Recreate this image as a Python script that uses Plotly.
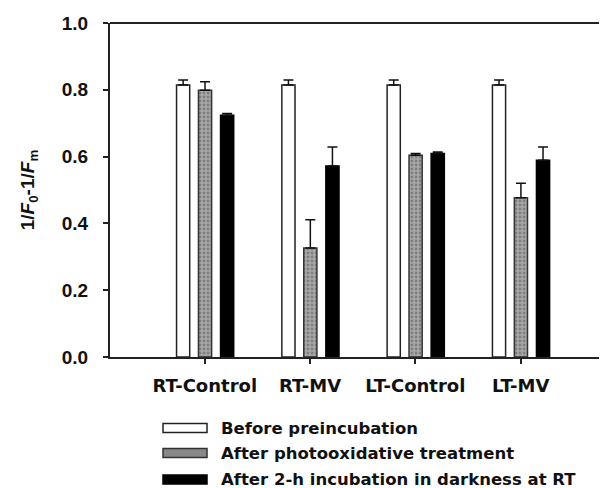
import plotly.graph_objects as go

categories = ["RT-Control", "RT-MV", "LT-Control", "LT-MV"]
series_names = ["Before preincubation", "After photooxidative treatment",
                "After 2-h incubation in darkness at RT"]
before = [0.814, 0.814, 0.814, 0.814]
before_err = [0.015, 0.015, 0.015, 0.015]
after_photo = [0.799, 0.326, 0.604, 0.477]
after_photo_err = [0.025, 0.085, 0.005, 0.043]
after_dark = [0.724, 0.572, 0.609, 0.589]
after_dark_err = [0.005, 0.057, 0.005, 0.040]
y_ticks = [0.0, 0.2, 0.4, 0.6, 0.8, 1.0]

# page body has an 8px margin; work in page pixels and shift
OFF = 8
W, H = 599, 480
ML, MR, MT, MB = 110 - OFF, 0, 23 - OFF, 131
PW, PH = W - ML - MR, H - MT - MB

def px_x(x):
    return (x - OFF - ML) / PW

def px_y(y):
    return (H - MB - (y - OFF)) / PH

styles = [
    dict(color="white", line=dict(color="#222", width=1.5)),
    dict(color="#9a9a9a", line=dict(color="#333", width=1.5),
         pattern=dict(shape=".", fgcolor="#555", bgcolor="#a8a8a8", size=4, solidity=0.4)),
    dict(color="black", line=dict(color="black", width=1.5)),
]
offsets = [-0.268, -0.06, 0.15]
width = 0.125
data = [(before, before_err), (after_photo, after_photo_err), (after_dark, after_dark_err)]

fig = go.Figure()
for name, (vals, errs), st, off in zip(series_names, data, styles, offsets):
    fig.add_trace(go.Bar(
        x=categories, y=vals, name=name, marker=st, width=width, offset=off,
        error_y=dict(type="data", array=errs, arrayminus=[0] * len(errs),
                     symmetric=False, color="#111", thickness=1.5, width=5),
        showlegend=False,
    ))

fig.update_layout(
    width=W, height=H, margin=dict(l=ML, r=MR, t=MT, b=MB),
    plot_bgcolor="white", paper_bgcolor="white", barmode="overlay",
    font=dict(family="Liberation Sans", color="#111"),
    xaxis=dict(range=[-0.9, 3.82], showline=True, linecolor="#222", linewidth=2,
               ticks="outside", ticklen=5, tickwidth=1.5, tickcolor="#222",
               tickfont=dict(family="DejaVu Sans", size=18, weight="bold"),
               ticklabelstandoff=6, showgrid=False, zeroline=False),
    yaxis=dict(range=[0, 1.0], tickvals=y_ticks, ticktext=[f"{v:.1f}" for v in y_ticks],
               showline=True, linecolor="#222", linewidth=2,
               ticks="outside", ticklen=5, tickwidth=1.5, tickcolor="#222",
               tickfont=dict(family="Liberation Sans", size=19, weight="bold"),
               ticklabelstandoff=11, showgrid=False, zeroline=False,
               title=dict(text="1/<i>F</i><sub>0</sub>-1/<i>F</i><sub>m</sub>",
                          font=dict(family="Liberation Sans", size=19, weight="bold"),
                          standoff=22)),
)

# top frame line
fig.add_shape(type="line", xref="paper", yref="paper", x0=0, x1=1, y0=1, y1=1,
              line=dict(color="#222", width=2))

# manual legend with wide swatches
rows_y = [428, 453, 479.5]
for name, st, yc in zip(series_names, styles, rows_y):
    fig.add_shape(type="rect", xref="paper", yref="paper",
                  x0=px_x(163), x1=px_x(207), y0=px_y(yc - 4.5), y1=px_y(yc + 4.5),
                  fillcolor=st["color"] if st["color"] != "#9a9a9a" else "#888",
                  line=dict(color=st["line"]["color"], width=1.5))
    fig.add_annotation(text=name, xref="paper", yref="paper", x=px_x(219), y=px_y(yc),
                       xanchor="left", yanchor="middle", showarrow=False,
                       font=dict(family="DejaVu Sans", size=16.5, weight="bold", color="#111"))

fig.write_html("out.html")
